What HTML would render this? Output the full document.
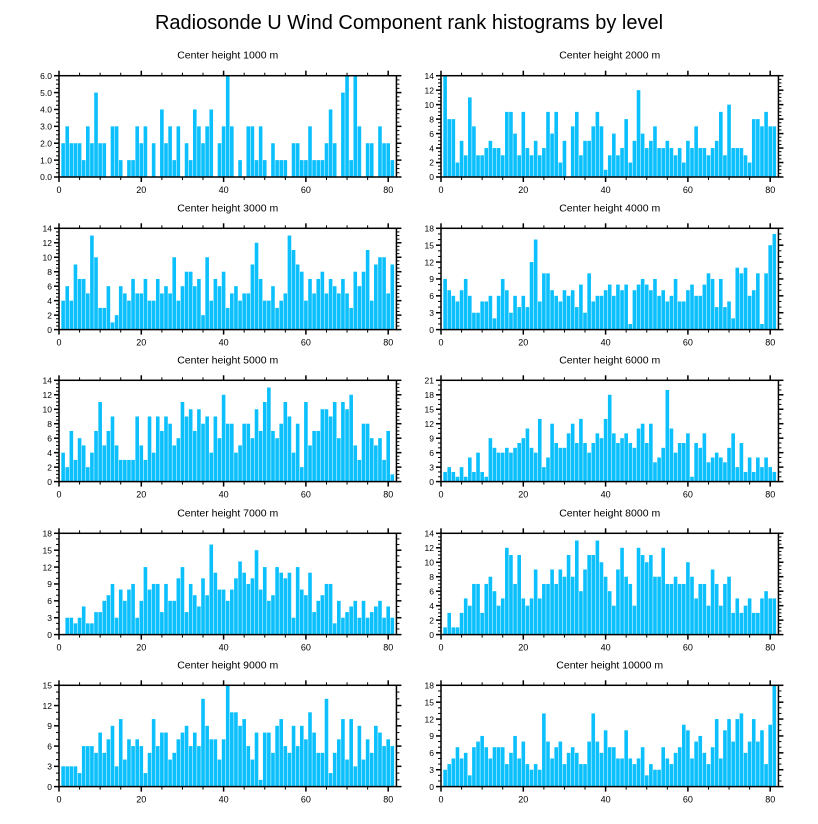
<!DOCTYPE html>
<html><head><meta charset="utf-8"><style>
html,body{margin:0;padding:0;background:#fff;}
svg{display:block;font-family:"Liberation Sans",sans-serif;}
</style></head><body>
<svg id="chart" width="818" height="824" viewBox="0 0 818 824">
<text x="409" y="29" text-anchor="middle" font-size="20">Radiosonde U Wind Component rank histograms by level</text>
</svg>
<script>
const panelTitles = ["Center height 1000 m","Center height 2000 m","Center height 3000 m","Center height 4000 m","Center height 5000 m","Center height 6000 m","Center height 7000 m","Center height 8000 m","Center height 9000 m","Center height 10000 m"];
const yMax = [6,14,14,18,14,21,18,14,15,18];
const yStep = [1,2,2,3,2,3,3,2,3,3];
const yDecimals = [1,0,0,0,0,0,0,0,0,0];
const xTicks = [0,20,40,60,80];
const h1000 = [2,3,2,2,2,1,3,2,5,2,2,0,3,3,1,0,1,1,3,2,3,0,2,0,4,2,3,1,3,0,2,1,4,3,2,3,4,0,2,3,6,3,0,1,0,3,3,1,3,1,0,2,1,1,1,0,2,2,1,1,3,1,1,1,2,4,2,0,5,6,1,6,3,0,2,2,0,3,2,2,1];
const h2000 = [14,8,8,2,5,3,11,7,3,3,4,5,4,4,3,9,9,6,3,9,4,3,5,3,4,9,6,9,2,5,0,7,9,3,5,5,7,9,7,1,3,6,3,4,8,2,5,12,6,4,5,7,4,4,5,4,3,4,2,5,4,7,4,4,3,4,5,9,3,10,4,4,4,3,2,8,8,7,9,7,7];
const h3000 = [4,6,4,9,7,7,5,13,10,3,3,6,1,2,6,5,4,7,5,5,7,4,4,7,5,6,5,10,4,6,8,8,6,7,2,10,4,7,6,8,3,5,6,4,5,5,9,12,7,4,4,6,3,4,5,13,11,9,8,4,7,5,7,8,5,7,6,5,7,5,3,8,6,8,11,4,9,10,10,5,9];
const h4000 = [9,7,6,5,7,9,6,3,3,5,5,6,2,6,9,7,3,6,4,6,4,12,16,5,10,10,7,6,5,7,6,7,4,8,3,10,5,6,6,7,8,6,8,7,8,1,7,8,9,8,7,9,6,7,5,6,9,5,5,7,8,6,6,8,10,9,4,9,4,5,2,11,10,11,6,7,10,1,10,15,17];
const h5000 = [4,2,7,3,6,5,2,4,7,11,5,7,9,5,3,3,3,3,9,5,3,9,4,9,7,9,8,5,6,11,9,10,7,10,8,9,4,9,6,12,8,8,4,5,8,8,6,10,7,11,13,7,6,8,11,9,4,8,2,11,5,7,7,10,10,9,11,6,11,10,12,5,3,8,8,6,5,6,3,7,1];
const h6000 = [2,3,2,1,3,1,5,2,6,2,1,9,7,6,6,7,6,7,8,9,11,7,6,13,3,5,12,8,7,7,10,12,8,13,8,6,8,10,9,13,18,10,8,9,10,8,7,11,12,8,12,4,5,7,19,11,6,8,8,10,1,8,7,10,4,5,6,5,4,7,10,3,8,2,5,2,5,3,5,3,2];
const h7000 = [0,3,3,2,3,5,2,2,4,4,6,7,9,3,8,6,8,9,3,6,12,8,9,9,4,9,6,6,10,12,4,9,7,5,10,7,16,11,8,8,6,8,10,13,11,9,10,15,8,12,6,7,12,11,10,11,3,12,8,7,11,4,6,7,9,9,2,6,3,4,5,6,3,6,3,4,5,6,3,5,3];
const h8000 = [1,3,1,1,3,5,4,7,7,3,7,8,6,4,5,12,11,7,11,5,4,5,9,5,7,7,9,7,9,8,11,8,13,6,9,11,11,13,10,8,6,4,9,12,8,7,4,12,11,10,11,8,8,12,7,7,8,7,7,10,8,5,7,7,4,9,7,4,7,8,3,5,3,4,5,3,3,5,6,5,5];
const h9000 = [3,3,3,3,2,6,6,6,5,8,5,7,9,3,10,4,7,6,7,6,2,5,10,6,8,8,4,5,7,8,9,6,8,6,13,9,7,7,4,7,15,11,11,9,10,6,4,8,1,8,8,5,9,10,6,5,9,6,9,7,11,8,5,5,13,2,5,7,10,4,10,3,9,4,7,5,9,8,6,7,6];
const h10000 = [3,4,5,7,5,6,2,7,8,9,7,5,7,7,7,4,6,9,5,8,4,3,4,3,13,8,5,7,8,4,6,7,6,4,4,8,13,8,6,10,7,7,5,5,10,5,4,5,7,2,4,3,3,7,5,4,6,7,11,10,5,8,9,6,4,7,12,5,10,12,8,12,13,6,8,12,8,10,4,11,18];
const allSeries = [h1000,h2000,h3000,h4000,h5000,h6000,h7000,h8000,h9000,h10000];

const NS = "http://www.w3.org/2000/svg";
const svg = document.getElementById("chart");
const colLeft = [59, 441];
const rowTop = [75.7, 228.3, 380.3, 533.3, 685.3];
const plotH = 101.3;
const unit = 4.115;
const XMAX = 82;
function mk(tag, attrs, parent){
  const e = document.createElementNS(NS, tag);
  for (const k in attrs) e.setAttribute(k, attrs[k]);
  (parent||svg).appendChild(e);
  return e;
}
allSeries.forEach((vals, p) => {
  const col = p % 2, row = Math.floor(p / 2);
  const x0 = colLeft[col], y0 = rowTop[row];
  const W = XMAX * unit;
  const xs = v => x0 + v * unit;
  const ys = v => y0 + plotH - v / yMax[p] * plotH;
  const g = mk("g", {});
  
  
  const t = mk("text", {x: x0 + W / 2, y: y0 - 17, "text-anchor": "middle", "font-size": "10.5"}, g);
  t.textContent = panelTitles[p];
  
  
  vals.forEach((v, i) => {
    if (v <= 0) return;
    const c = i + 1;
    const r = mk("rect", {x: xs(c - 0.5) + 0.25, y: ys(v), width: unit - 0.5, height: ys(0) - ys(v), fill: "#0cc0fd"}, g);
    
    
  });
  // ticks
  const tk = mk("g", {stroke: "#000", "stroke-width": "1"}, g);
  
  
  for (let v = 0; v <= XMAX; v += 5) {
    const major = v % 20 === 0, L = major ? 5 : 3;
    const x = xs(v);
    mk("line", {x1: x, y1: y0 + plotH, x2: x, y2: y0 + plotH + L, "stroke-width": major ? 1.5 : 1}, tk);
    mk("line", {x1: x, y1: y0, x2: x, y2: y0 - L, "stroke-width": major ? 1.5 : 1}, tk);
  }
  const minorDiv = yStep[p] === 3 ? 3 : 4;
  const mstep = yStep[p] / minorDiv;
  for (let k = 0; k * mstep <= yMax[p] + 1e-9; k++) {
    const v = k * mstep, major = k % minorDiv === 0, L = major ? 5 : 3;
    const y = ys(v);
    mk("line", {x1: x0, y1: y, x2: x0 - L, y2: y, "stroke-width": major ? 1.5 : 1}, tk);
    mk("line", {x1: x0 + W, y1: y, x2: x0 + W + L, y2: y, "stroke-width": major ? 1.5 : 1}, tk);
  }
  const fr = mk("rect", {x: x0, y: y0, width: W, height: plotH, fill: "none", stroke: "#000", "stroke-width": "1.5"}, g);
  
  
  for (let v = 0; v <= yMax[p] + 1e-9; v += yStep[p]) {
    const lab = mk("text", {x: x0 - 7, y: ys(v) + 3.2, "text-anchor": "end", "font-size": "8.5"}, g);
    lab.textContent = v.toFixed(yDecimals[p]);
    
    
  }
  xTicks.forEach(v => {
    const lab = mk("text", {x: xs(v), y: y0 + plotH + 16, "text-anchor": "middle", "font-size": "9"}, g);
    lab.textContent = v;
    
    
  });
});
</script>
</body></html>
